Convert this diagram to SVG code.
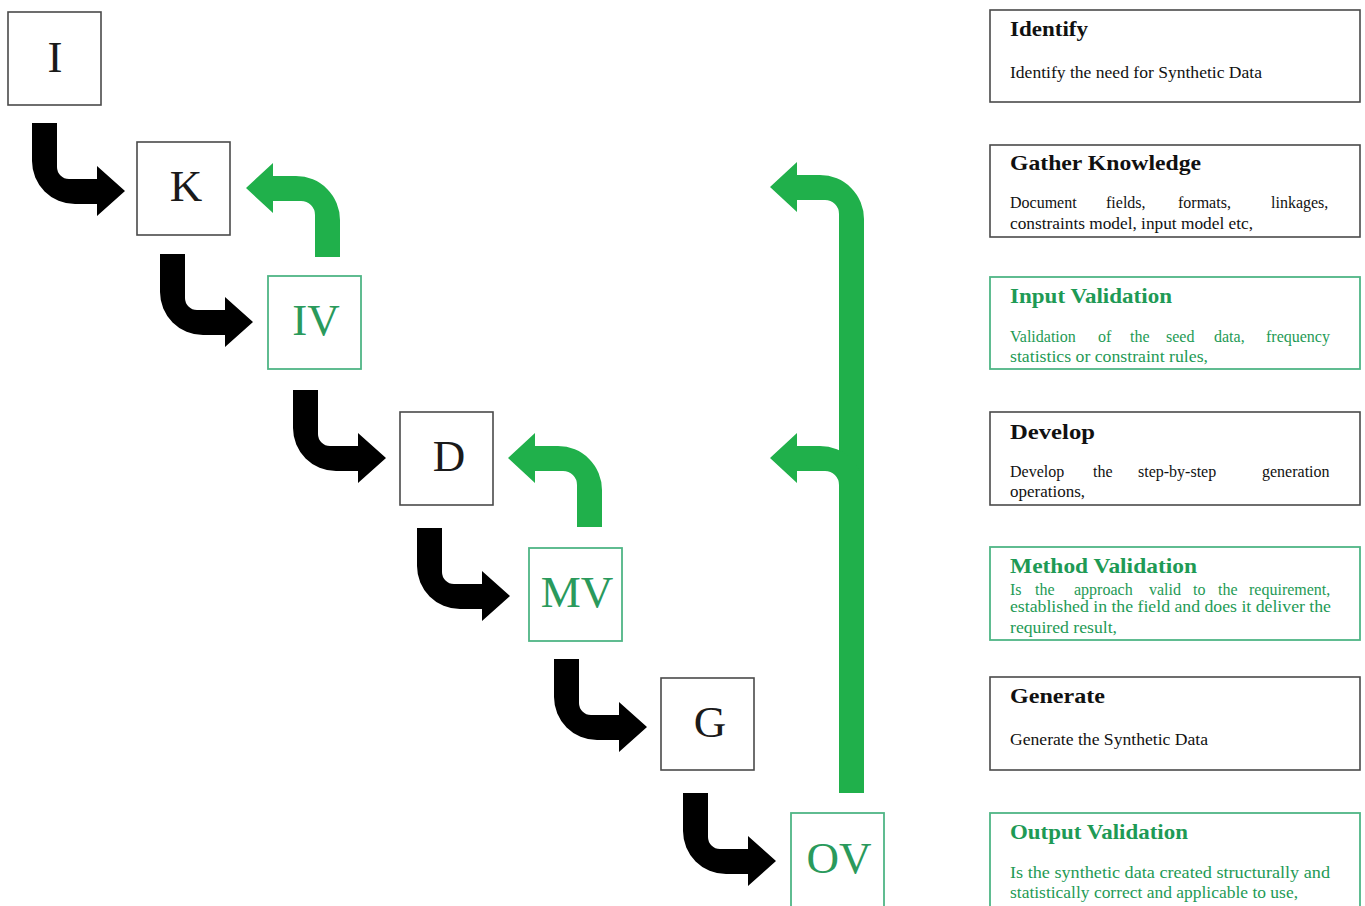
<svg xmlns="http://www.w3.org/2000/svg" width="1365" height="906" viewBox="0 0 1365 906">
<style>
.bk{fill:#fff;stroke:#4a4a4a;stroke-width:1.6}
.gb{fill:#fff;stroke:#4fb585;stroke-width:1.8}
.lt{font-family:"Liberation Serif",serif;font-size:45px;text-anchor:middle}
.lk{fill:#1a1a1a}
.lg{fill:#2a9a5c}
.ti{font-family:"Liberation Serif",serif;font-size:21px;font-weight:bold}
.bd{font-family:"Liberation Serif",serif;font-size:16px}
.tk{fill:#111}
.tg{fill:#1e9a55}
.ab{fill:#000}
.ag{fill:#20b04b}
</style>
<rect width="1365" height="906" fill="#fff"/>
<g id="connectors">
  <g id="black-arrows">
    <path class="ab" d="M32 123 h25 v44 a12 12 0 0 0 12 12 h28 v-13 l28 25 l-28 25 v-12 h-22 a43 43 0 0 1 -43 -43 z"/>
    <path class="ab" d="M160 254 h25 v44 a12 12 0 0 0 12 12 h28 v-13 l28 25 l-28 25 v-12 h-22 a43 43 0 0 1 -43 -43 z"/>
    <path class="ab" d="M293 390 h25 v44 a12 12 0 0 0 12 12 h28 v-13 l28 25 l-28 25 v-12 h-22 a43 43 0 0 1 -43 -43 z"/>
    <path class="ab" d="M417 528 h25 v44 a12 12 0 0 0 12 12 h28 v-13 l28 25 l-28 25 v-12 h-22 a43 43 0 0 1 -43 -43 z"/>
    <path class="ab" d="M554 659 h25 v44 a12 12 0 0 0 12 12 h28 v-13 l28 25 l-28 25 v-12 h-22 a43 43 0 0 1 -43 -43 z"/>
    <path class="ab" d="M683 793 h25 v44 a12 12 0 0 0 12 12 h28 v-13 l28 25 l-28 25 v-12 h-22 a43 43 0 0 1 -43 -43 z"/>
  </g>
  <g id="green-arrows">
    <path class="ag" d="M246 188 l27 -25 v13 h23 a44 44 0 0 1 44 44 v37 h-25 v-42 a14 14 0 0 0 -14 -14 h-28 v12 z"/>
    <path class="ag" d="M508 458 l27 -25 v13 h23 a44 44 0 0 1 44 44 v37 h-25 v-42 a14 14 0 0 0 -14 -14 h-28 v12 z"/>
    <path class="ag" d="M770 187 l27 -25 v13 h23 a44 44 0 0 1 44 44 v574 h-25 v-579 a14 14 0 0 0 -14 -14 h-28 v12 z"/>
    <path class="ag" d="M770 458 l27 -25 v13 h23 a44 44 0 0 1 44 44 v37 h-25 v-42 a14 14 0 0 0 -14 -14 h-28 v12 z"/>
  </g>
</g>
<g id="node-I"><rect class="bk" x="8" y="12" width="93" height="93"/><text class="lt lk" x="55" y="72">I</text></g>
<g id="node-K"><rect class="bk" x="137" y="142" width="93" height="93"/><text class="lt lk" x="186" y="201">K</text></g>
<g id="node-IV"><rect class="gb" x="268" y="276" width="93" height="93"/><text class="lt lg" x="316" y="335">IV</text></g>
<g id="node-D"><rect class="bk" x="400" y="412" width="93" height="93"/><text class="lt lk" x="449" y="471">D</text></g>
<g id="node-MV"><rect class="gb" x="529" y="548" width="93" height="93"/><text class="lt lg" x="577" y="607">MV</text></g>
<g id="node-G"><rect class="bk" x="661" y="678" width="93" height="92"/><text class="lt lk" x="710" y="737">G</text></g>
<g id="node-OV"><rect class="gb" x="791" y="813" width="93" height="100"/><text class="lt lg" x="839" y="873">OV</text></g>

<g id="desc-identify">
  <rect class="bk" x="990" y="10" width="370" height="92"/>
  <text class="ti tk" x="1010" y="36" textLength="78" lengthAdjust="spacingAndGlyphs">Identify</text>
  <text class="bd tk" x="1010" y="78" textLength="252" lengthAdjust="spacingAndGlyphs">Identify the need for Synthetic Data</text>
</g>
<g id="desc-gather">
  <rect class="bk" x="990" y="145" width="370" height="92"/>
  <text class="ti tk" x="1010" y="170" textLength="191" lengthAdjust="spacingAndGlyphs">Gather Knowledge</text>
  <text class="bd tk" y="208"><tspan x="1010">Document</tspan><tspan x="1106">fields,</tspan><tspan x="1178">formats,</tspan><tspan x="1271">linkages,</tspan></text>
  <text class="bd tk" x="1010" y="229" textLength="243" lengthAdjust="spacingAndGlyphs">constraints model, input model etc,</text>
</g>
<g id="desc-input">
  <rect class="gb" x="990" y="277" width="370" height="92"/>
  <text class="ti tg" x="1010" y="303" textLength="162" lengthAdjust="spacingAndGlyphs">Input Validation</text>
  <text class="bd tg" y="342"><tspan x="1010">Validation</tspan><tspan x="1098">of</tspan><tspan x="1130">the</tspan><tspan x="1166">seed</tspan><tspan x="1214">data,</tspan><tspan x="1266">frequency</tspan></text>
  <text class="bd tg" x="1010" y="362" textLength="198" lengthAdjust="spacingAndGlyphs">statistics or constraint rules,</text>
</g>
<g id="desc-develop">
  <rect class="bk" x="990" y="412" width="370" height="93"/>
  <text class="ti tk" x="1010" y="439" textLength="85" lengthAdjust="spacingAndGlyphs">Develop</text>
  <text class="bd tk" y="477"><tspan x="1010">Develop</tspan><tspan x="1093">the</tspan><tspan x="1138">step-by-step</tspan><tspan x="1262">generation</tspan></text>
  <text class="bd tk" x="1010" y="497" textLength="75" lengthAdjust="spacingAndGlyphs">operations,</text>
</g>
<g id="desc-method">
  <rect class="gb" x="990" y="547" width="370" height="93"/>
  <text class="ti tg" x="1010" y="573" textLength="187" lengthAdjust="spacingAndGlyphs">Method Validation</text>
  <text class="bd tg" y="595"><tspan x="1010">Is</tspan><tspan x="1035">the</tspan><tspan x="1074">approach</tspan><tspan x="1149">valid</tspan><tspan x="1193">to</tspan><tspan x="1218">the</tspan><tspan x="1249">requirement,</tspan></text>
  <text class="bd tg" x="1010" y="612" textLength="321" lengthAdjust="spacingAndGlyphs">established in the field and does it deliver the</text>
  <text class="bd tg" x="1010" y="633" textLength="107" lengthAdjust="spacingAndGlyphs">required result,</text>
</g>
<g id="desc-generate">
  <rect class="bk" x="990" y="677" width="370" height="93"/>
  <text class="ti tk" x="1010" y="703" textLength="95" lengthAdjust="spacingAndGlyphs">Generate</text>
  <text class="bd tk" x="1010" y="745" textLength="198" lengthAdjust="spacingAndGlyphs">Generate the Synthetic Data</text>
</g>
<g id="desc-output">
  <rect class="gb" x="990" y="813" width="370" height="100"/>
  <text class="ti tg" x="1010" y="839" textLength="178" lengthAdjust="spacingAndGlyphs">Output Validation</text>
  <text class="bd tg" x="1010" y="878" textLength="320" lengthAdjust="spacingAndGlyphs">Is the synthetic data created structurally and</text>
  <text class="bd tg" x="1010" y="898" textLength="288" lengthAdjust="spacingAndGlyphs">statistically correct and applicable to use,</text>
</g>
</svg>
